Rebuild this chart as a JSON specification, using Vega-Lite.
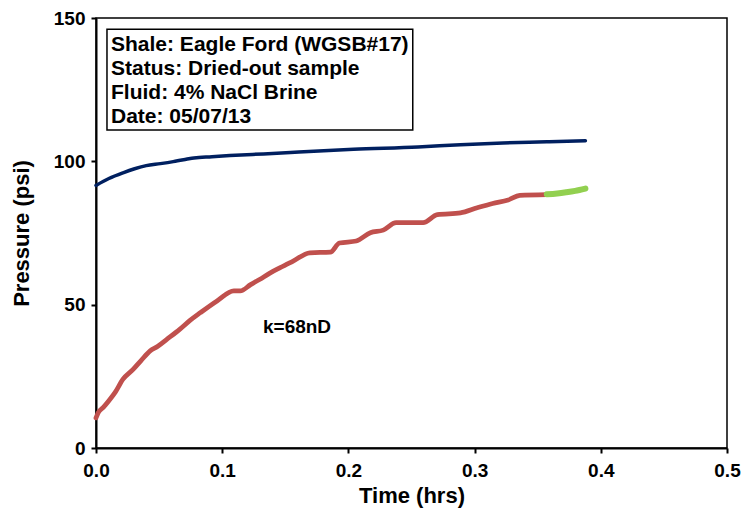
{
  "$schema": "https://vega.github.io/schema/vega-lite/v6.json",
  "autosize": {"type": "none"},
  "padding": {"left": 96, "top": 18, "right": 17, "bottom": 71},
  "width": 631,
  "height": 430,
  "background": "white",
  "config": {
    "view": {"stroke": "black", "strokeWidth": 1.5},
    "font": "Liberation Sans"
  },
  "datasets": {
    "curves": [
      {"series": "upstream", "t": 0, "p": 91.6},
      {"series": "upstream", "t": 0.0102, "p": 94},
      {"series": "upstream", "t": 0.0214, "p": 96},
      {"series": "upstream", "t": 0.0306, "p": 97.4},
      {"series": "upstream", "t": 0.0398, "p": 98.5},
      {"series": "upstream", "t": 0.051, "p": 99.2},
      {"series": "upstream", "t": 0.0612, "p": 99.9},
      {"series": "upstream", "t": 0.0714, "p": 100.7},
      {"series": "upstream", "t": 0.0776, "p": 101.2},
      {"series": "upstream", "t": 0.0919, "p": 101.6},
      {"series": "upstream", "t": 0.1061, "p": 102},
      {"series": "upstream", "t": 0.1327, "p": 102.6},
      {"series": "upstream", "t": 0.1541, "p": 103.1},
      {"series": "upstream", "t": 0.2041, "p": 104.2},
      {"series": "upstream", "t": 0.2552, "p": 105},
      {"series": "upstream", "t": 0.2888, "p": 105.8},
      {"series": "upstream", "t": 0.3225, "p": 106.4},
      {"series": "upstream", "t": 0.3572, "p": 106.8},
      {"series": "upstream", "t": 0.3878, "p": 107.2},
      {"series": "downstream", "t": 0, "p": 10.5},
      {"series": "downstream", "t": 0.002, "p": 12.5},
      {"series": "downstream", "t": 0.0058, "p": 14.2},
      {"series": "downstream", "t": 0.0102, "p": 16.5},
      {"series": "downstream", "t": 0.0153, "p": 19.5},
      {"series": "downstream", "t": 0.0214, "p": 24},
      {"series": "downstream", "t": 0.0296, "p": 27.5},
      {"series": "downstream", "t": 0.0357, "p": 30.5},
      {"series": "downstream", "t": 0.0429, "p": 33.9},
      {"series": "downstream", "t": 0.049, "p": 35.5},
      {"series": "downstream", "t": 0.0561, "p": 37.9},
      {"series": "downstream", "t": 0.0663, "p": 41.4},
      {"series": "downstream", "t": 0.0745, "p": 44.5},
      {"series": "downstream", "t": 0.0827, "p": 47.2},
      {"series": "downstream", "t": 0.0959, "p": 51.3},
      {"series": "downstream", "t": 0.1092, "p": 54.8},
      {"series": "downstream", "t": 0.1143, "p": 54.8},
      {"series": "downstream", "t": 0.1225, "p": 57},
      {"series": "downstream", "t": 0.1296, "p": 58.8},
      {"series": "downstream", "t": 0.1378, "p": 61},
      {"series": "downstream", "t": 0.1459, "p": 62.9},
      {"series": "downstream", "t": 0.1562, "p": 65.2},
      {"series": "downstream", "t": 0.1694, "p": 68.1},
      {"series": "downstream", "t": 0.1857, "p": 68.3},
      {"series": "downstream", "t": 0.1929, "p": 71.5},
      {"series": "downstream", "t": 0.2062, "p": 72.2},
      {"series": "downstream", "t": 0.2174, "p": 75.1},
      {"series": "downstream", "t": 0.2276, "p": 76},
      {"series": "downstream", "t": 0.2378, "p": 78.6},
      {"series": "downstream", "t": 0.2592, "p": 78.6},
      {"series": "downstream", "t": 0.2705, "p": 81.4},
      {"series": "downstream", "t": 0.2888, "p": 82},
      {"series": "downstream", "t": 0.3021, "p": 83.8},
      {"series": "downstream", "t": 0.3143, "p": 85.3},
      {"series": "downstream", "t": 0.3266, "p": 86.5},
      {"series": "downstream", "t": 0.3358, "p": 88.1},
      {"series": "downstream", "t": 0.3572, "p": 88.4},
      {"series": "fit", "t": 0.3572, "p": 88.5},
      {"series": "fit", "t": 0.3654, "p": 88.8},
      {"series": "fit", "t": 0.3725, "p": 89.2},
      {"series": "fit", "t": 0.3797, "p": 89.7},
      {"series": "fit", "t": 0.3878, "p": 90.5}
    ],
    "box": [{"x1": 0.0087, "x2": 0.251, "y1": 110.9, "y2": 146.1}],
    "notes": [
      {"t": 0.0119, "p": 138.6, "label": "Shale: Eagle Ford (WGSB#17)", "size": 21},
      {"t": 0.0119, "p": 130.2, "label": "Status: Dried-out sample", "size": 21},
      {"t": 0.0119, "p": 121.8, "label": "Fluid: 4% NaCl Brine", "size": 21},
      {"t": 0.0119, "p": 113.5, "label": "Date: 05/07/13", "size": 21}
    ],
    "annot": [
      {"t": 0.1323, "p": 42.2, "label": "k=68nD"}
    ]
  },
  "layer": [
    {
      "data": {"name": "curves"},
      "mark": {"type": "line", "strokeCap": "round", "strokeJoin": "round", "interpolate": "monotone"},
      "encoding": {
        "x": {
          "field": "t", "type": "quantitative",
          "scale": {"domain": [0, 0.5], "nice": false},
          "axis": {
            "title": "Time (hrs)", "values": [0, 0.1, 0.2, 0.3, 0.4, 0.5], "format": ".1f",
            "grid": false, "domainColor": "black", "domainWidth": 2, "tickColor": "black", "tickWidth": 2, "tickSize": 5,
            "labelFontSize": 19, "labelFontWeight": "bold", "labelColor": "black", "labelPadding": 8,
            "titleFontSize": 22, "titleFontWeight": "bold", "titleColor": "black", "titlePadding": 5,
            "labelFlush": false
          }
        },
        "y": {
          "field": "p", "type": "quantitative",
          "scale": {"domain": [0, 150], "nice": false},
          "axis": {
            "title": "Pressure (psi)", "values": [0, 50, 100, 150],
            "grid": false, "domainColor": "black", "domainWidth": 2, "tickColor": "black", "tickWidth": 2, "tickSize": 5,
            "labelFontSize": 19, "labelFontWeight": "bold", "labelColor": "black", "labelPadding": 6,
            "titleFontSize": 22, "titleFontWeight": "bold", "titleColor": "black", "titlePadding": 20,
            "labelFlush": false
          }
        },
        "color": {
          "field": "series", "type": "nominal",
          "scale": {"domain": ["upstream", "downstream", "fit"], "range": ["#002060", "#C0504D", "#92D050"]},
          "legend": null
        },
        "strokeWidth": {
          "field": "series", "type": "nominal",
          "scale": {"domain": ["upstream", "downstream", "fit"], "range": [3.5, 6, 3.5]},
          "legend": null
        }
      }
    },
    {
      "data": {"name": "box"},
      "mark": {"type": "rect", "fill": "white", "stroke": "black", "strokeWidth": 1.5},
      "encoding": {
        "x": {"field": "x1", "type": "quantitative"},
        "x2": {"field": "x2"},
        "y": {"field": "y1", "type": "quantitative"},
        "y2": {"field": "y2"}
      }
    },
    {
      "data": {"name": "notes"},
      "mark": {"type": "text", "align": "left", "baseline": "alphabetic", "fontSize": 21, "fontWeight": "bold", "color": "black"},
      "encoding": {
        "x": {"field": "t", "type": "quantitative"},
        "y": {"field": "p", "type": "quantitative"},
        "text": {"field": "label"}
      }
    },
    {
      "data": {"name": "annot"},
      "mark": {"type": "text", "align": "left", "baseline": "middle", "fontSize": 19, "fontWeight": "bold", "color": "black"},
      "encoding": {
        "x": {"field": "t", "type": "quantitative"},
        "y": {"field": "p", "type": "quantitative"},
        "text": {"field": "label"}
      }
    }
  ]
}
